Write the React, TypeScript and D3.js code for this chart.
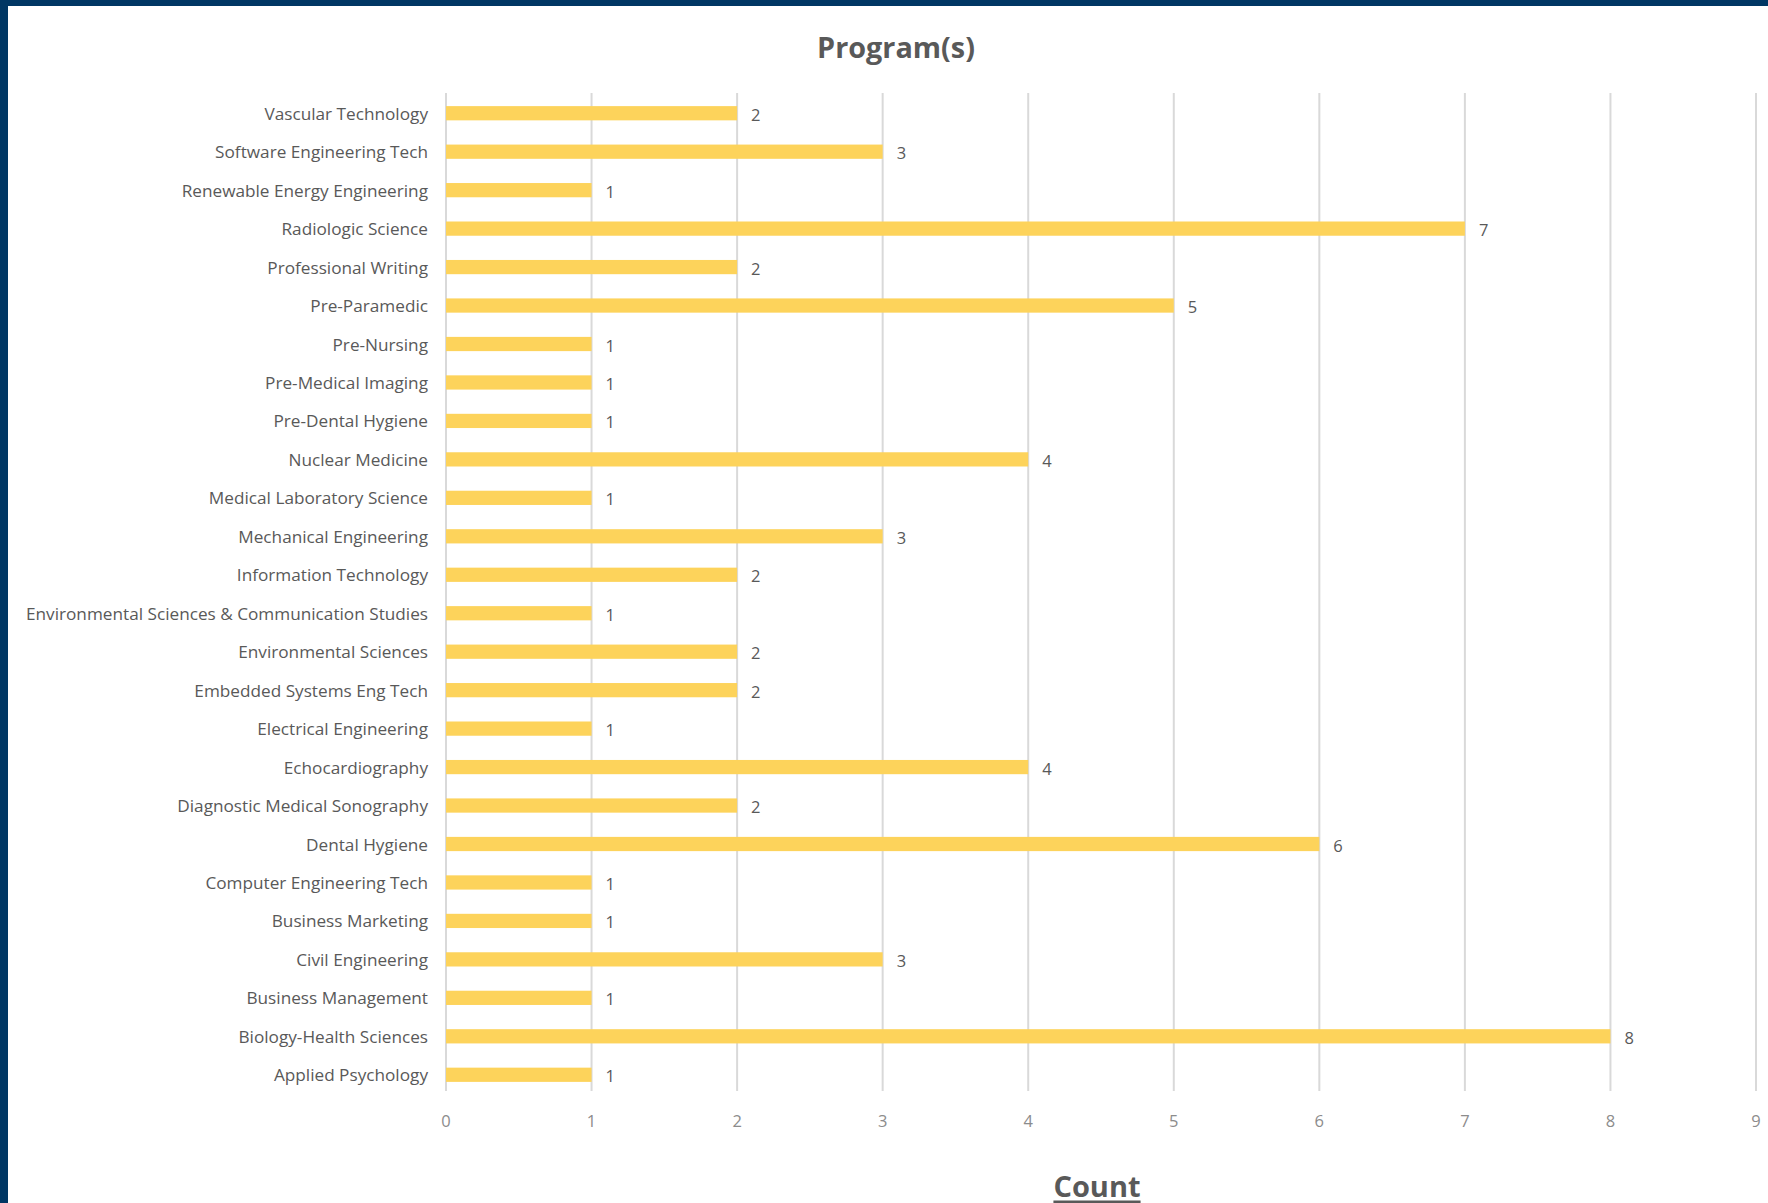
import React from "react";
import * as d3 from "d3";

const programs = [
  "Vascular Technology",
  "Software Engineering Tech",
  "Renewable Energy Engineering",
  "Radiologic Science",
  "Professional Writing",
  "Pre-Paramedic",
  "Pre-Nursing",
  "Pre-Medical Imaging",
  "Pre-Dental Hygiene",
  "Nuclear Medicine",
  "Medical Laboratory Science",
  "Mechanical Engineering",
  "Information Technology",
  "Environmental Sciences & Communication Studies",
  "Environmental Sciences",
  "Embedded Systems Eng Tech",
  "Electrical Engineering",
  "Echocardiography",
  "Diagnostic Medical Sonography",
  "Dental Hygiene",
  "Computer Engineering Tech",
  "Business Marketing",
  "Civil Engineering",
  "Business Management",
  "Biology-Health Sciences",
  "Applied Psychology",
];
const counts = [2, 3, 1, 7, 2, 5, 1, 1, 1, 4, 1, 3, 2, 1, 2, 2, 1, 4, 2, 6, 1, 1, 3, 1, 8, 1];
const xTicks = [0, 1, 2, 3, 4, 5, 6, 7, 8, 9];
const chartTitle = "Program(s)";
const axisTitle = "Count";

const W = 1768;
const H = 1203;
const FONT = "'Open Sans', 'Noto Sans', sans-serif";

export default function App() {
  const x = d3.scaleLinear().domain([0, 9]).range([446, 1756]);
  const y = d3.scaleBand().domain(programs).range([94, 1094]).paddingInner(0.63).paddingOuter(0.315);
  const bh = y.bandwidth();
  return (
    <svg width={W} height={H} style={{ position: "absolute", left: 0, top: 0, background: "#fff" }}>
      <rect x={0} y={0} width={W} height={H} fill="#ffffff" />
      {xTicks.map((t) => (
        <line key={"g" + t} x1={x(t)} x2={x(t)} y1={93} y2={1091} stroke="#d9d9d9" strokeWidth={2} />
      ))}
      {programs.map((p, i) => (
        <g key={p}>
          <rect x={x(0)} y={y(p)!} width={x(counts[i]) - x(0)} height={bh} fill="#FDD35B" />
          <text
            x={428}
            y={y(p)! + bh / 2}
            textAnchor="end"
            dominantBaseline="central"
            fontFamily={FONT}
            fontSize={17.2}
            fill="#595959"
          >
            {p}
          </text>
          <text
            x={x(counts[i]) + 14}
            y={y(p)! + bh / 2 + 1}
            dominantBaseline="central"
            fontFamily={FONT}
            fontSize={16.5}
            fill="#595959"
          >
            {counts[i]}
          </text>
        </g>
      ))}
      {xTicks.map((t) => (
        <text
          key={"t" + t}
          x={x(t)}
          y={1120}
          textAnchor="middle"
          dominantBaseline="central"
          fontFamily={FONT}
          fontSize={16.5}
          fill="#8c8c8c"
        >
          {t}
        </text>
      ))}
      <text x={896} y={46} textAnchor="middle" dominantBaseline="central" fontFamily={FONT} fontWeight="bold" fontSize={28.8} fill="#595959">
        {chartTitle}
      </text>
      <text
        x={1097}
        y={1185}
        textAnchor="middle"
        dominantBaseline="central"
        fontFamily={FONT}
        fontWeight="bold"
        fontSize={29}
        fill="#595959"
        textDecoration="underline"
      >
        {axisTitle}
      </text>
      <rect x={0} y={0} width={W} height={6} fill="#003764" />
      <rect x={0} y={0} width={8} height={H} fill="#003764" />
    </svg>
  );
}
